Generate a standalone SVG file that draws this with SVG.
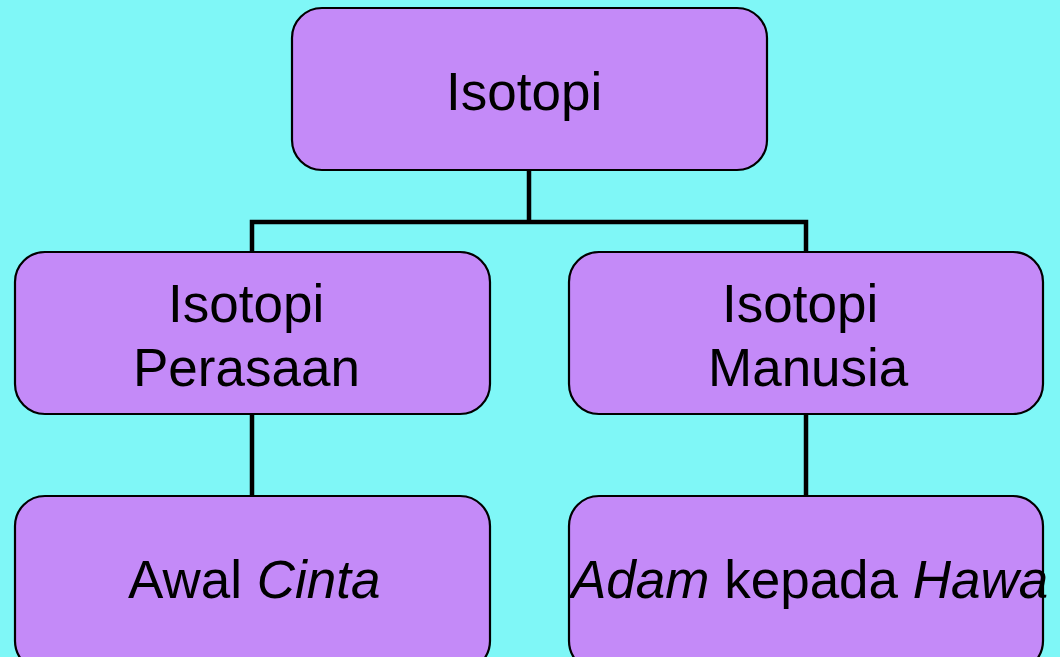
<svg xmlns="http://www.w3.org/2000/svg" width="1060" height="657" viewBox="0 0 1060 657">
  <style>
    .box { fill: #C48AF8; stroke: #000; stroke-width: 2.2; }
    .lbl { font-family: "Liberation Sans", Arial, sans-serif; font-size: 53px; fill: #000; }
    .it { font-style: italic; }
    .wire { fill: none; stroke: #000; stroke-width: 4.5; stroke-linecap: butt; stroke-linejoin: miter; }
  </style>
  <rect x="0" y="0" width="1060" height="657" fill="#7FF7F7"/>

  <g id="connectors">
    <path class="wire" d="M529 170 V222 M252 252 V222 H806 V252"/>
    <path class="wire" d="M252 414 V496"/>
    <path class="wire" d="M806 414 V496"/>
  </g>

  <g id="node-isotopi">
    <rect class="box" x="292" y="8" width="475" height="162" rx="30"/>
    <text class="lbl" x="446" y="110">Isotopi</text>
  </g>

  <g id="node-perasaan">
    <rect class="box" x="15" y="252" width="475" height="162" rx="30"/>
    <text class="lbl" x="168" y="322">Isotopi</text>
    <text class="lbl" x="133" y="386">Perasaan</text>
  </g>

  <g id="node-manusia">
    <rect class="box" x="569" y="252" width="474" height="162" rx="30"/>
    <text class="lbl" x="722" y="322">Isotopi</text>
    <text class="lbl" x="708" y="386">Manusia</text>
  </g>

  <g id="node-awal-cinta">
    <rect class="box" x="15" y="496" width="475" height="175" rx="30"/>
    <text class="lbl" x="128" y="598">Awal <tspan class="it">Cinta</tspan></text>
  </g>

  <g id="node-adam-hawa">
    <rect class="box" x="569" y="496" width="474" height="175" rx="30"/>
    <text class="lbl" x="571" y="598"><tspan class="it">Adam</tspan> kepada <tspan class="it">Hawa</tspan></text>
  </g>
</svg>
